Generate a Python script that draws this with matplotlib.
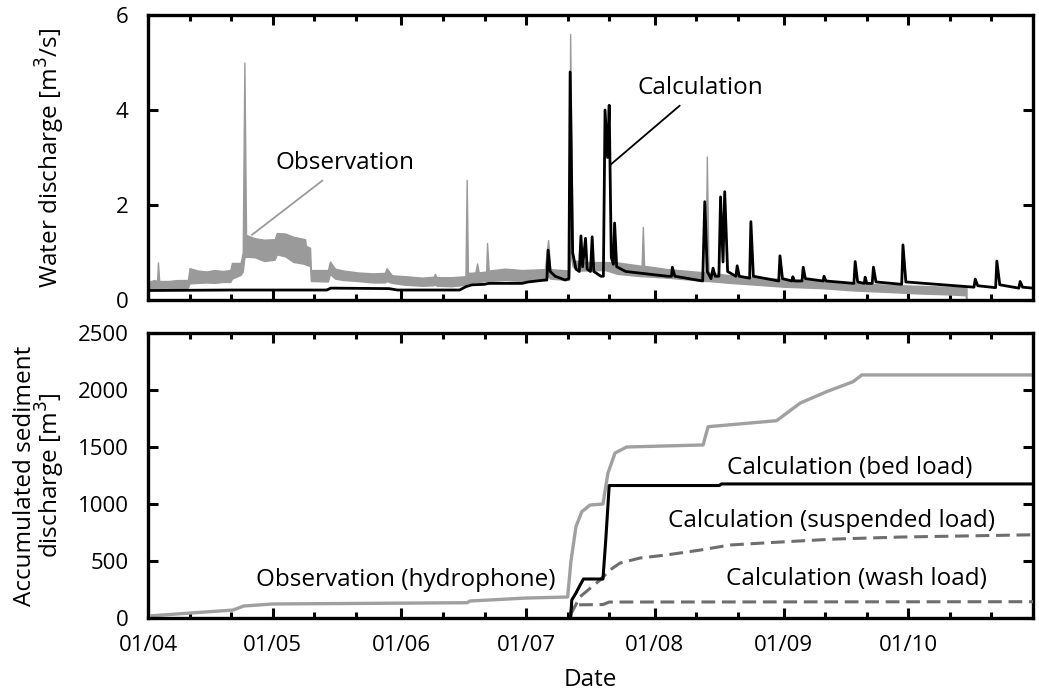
import numpy as np
import pandas as pd
import matplotlib
matplotlib.use("Agg")
import matplotlib.pyplot as plt
import matplotlib.dates as mdates

plt.rcParams['font.family'] = ['Open Sans', 'DejaVu Sans']

START = pd.Timestamp('2014-04-01')
END = pd.Timestamp('2014-10-31')

# ---------------- top panel: water discharge (m3/s), days since 01/04 ----------
# observed discharge: lower / upper edge of the daily fluctuation band
obs_day = [0.0, 1.5, 2.2, 2.4, 2.7, 5.0, 7.0, 9.6, 10.0, 12.0, 14.0, 16.0, 18.0, 19.8,
           20.2, 22.3, 22.8, 23.2, 23.6, 25.7, 28.0, 30.5, 31.0, 33.0, 35.0, 37.8, 38.0,
           39.0, 39.2, 43.3, 43.8, 45.0, 47.0, 50.5, 54.0, 57.0, 57.4, 58.7, 62.0, 66.0,
           68.8, 69.0, 69.5, 73.0, 76.4, 76.7, 77.0, 78.8, 79.2, 79.6, 81.4, 81.6, 82.0,
           86.0, 90.0, 95.5, 96.3, 96.8, 101.3, 101.6, 102.2, 104.0, 110.0, 113.0, 118.8,
           119.1, 119.4, 125.0, 134.2, 134.5, 134.9, 140.0, 145.0, 153.0, 162.0, 170.0,
           178.0, 185.0, 192.0, 196.8, 197.0]
obs_lo = [0.22, 0.25, 0.25, 0.25, 0.25, 0.24, 0.25, 0.26, 0.35, 0.36, 0.37, 0.36, 0.38, 0.38,
          0.45, 0.53, 0.60, 0.90, 0.91, 0.90, 0.82, 0.85, 0.96, 0.92, 0.80, 0.76, 0.74,
          0.72, 0.40, 0.39, 0.55, 0.45, 0.42, 0.40, 0.37, 0.37, 0.40, 0.36, 0.32, 0.30,
          0.31, 0.33, 0.30, 0.29, 0.32, 0.32, 0.36, 0.38, 0.38, 0.38, 0.40, 0.40, 0.40,
          0.42, 0.40, 0.42, 0.50, 0.45, 0.42, 1.00, 0.70, 0.62, 0.63, 0.55, 0.50,
          0.50, 0.50, 0.47, 0.40, 0.40, 0.40, 0.36, 0.33, 0.28, 0.25, 0.20,
          0.17, 0.14, 0.12, 0.10, -0.10]
obs_hi = [0.38, 0.42, 0.40, 0.79, 0.40, 0.40, 0.42, 0.42, 0.67, 0.62, 0.60, 0.63, 0.61, 0.63,
          0.78, 0.78, 1.00, 5.00, 1.37, 1.30, 1.27, 1.28, 1.41, 1.40, 1.33, 1.28, 1.14,
          1.10, 0.63, 0.63, 0.81, 0.66, 0.62, 0.58, 0.56, 0.57, 0.67, 0.52, 0.50, 0.47,
          0.49, 0.55, 0.48, 0.48, 0.50, 2.53, 0.57, 0.58, 0.77, 0.58, 0.60, 1.20, 0.62,
          0.66, 0.63, 0.65, 1.26, 0.65, 0.62, 5.60, 0.85, 0.80, 0.80, 0.79, 0.72,
          1.54, 0.72, 0.65, 0.58, 3.02, 0.58, 0.52, 0.49, 0.44, 0.40, 0.36,
          0.32, 0.30, 0.28, 0.27, 0.25]

calc_day = [0, 20, 43, 44, 58, 60, 75, 76.5, 78, 81, 82, 90, 91.5, 95.5, 96.0, 96.3, 96.8, 98,
            100.4, 101.3, 101.6, 102.2, 103, 103.8, 104.2, 104.6, 105.3, 105.7, 106.5,
            106.9, 107.3, 109, 109.6, 110, 110.6, 111.0, 111.5, 112.0, 112.3, 112.8, 115,
            125, 126, 126.2, 126.8, 133.5, 134.0, 134.6, 135.5, 136.0, 136.5, 137.4,
            137.8, 138.4, 138.8, 139.5, 141.5, 141.8, 142.3, 144.8, 145.1, 145.7, 151.8,
            152.1, 152.7, 155.0, 155.2, 155.6, 157.4, 157.7, 158.2, 162.5, 162.7, 163.2,
            169.9, 170.2, 170.8, 172.4, 172.6, 173.0, 174.3, 174.6, 175.2, 181.4, 181.7,
            182.4, 198.8, 199.1, 199.7, 204.0, 204.3, 205.0, 209.6, 209.9, 210.5, 213]
calc_q = [0.20, 0.21, 0.21, 0.25, 0.24, 0.21, 0.21, 0.28, 0.32, 0.33, 0.35, 0.35, 0.38, 0.42,
          0.42, 1.05, 0.60, 0.50, 0.42, 0.45, 4.80, 1.00, 0.65, 0.60, 1.35, 0.70, 1.30, 0.65,
          0.60, 1.33, 0.60, 0.50, 0.50, 4.00, 3.00, 4.10, 0.90, 0.75, 1.62, 0.70, 0.60,
          0.50, 0.50, 0.69, 0.50, 0.40, 2.07, 0.60, 0.45, 0.67, 0.50, 0.50,
          2.17, 0.80, 2.28, 0.60, 0.50, 0.72, 0.50, 0.46, 1.65, 0.50, 0.40,
          0.93, 0.45, 0.40, 0.49, 0.40, 0.40, 0.69, 0.45, 0.40, 0.50, 0.40,
          0.35, 0.81, 0.38, 0.35, 0.48, 0.35, 0.35, 0.69, 0.38, 0.33, 1.16,
          0.38, 0.27, 0.44, 0.30, 0.26, 0.82, 0.32, 0.25, 0.39, 0.27, 0.25]

# ---------------- bottom panel: accumulated sediment discharge (m3) ------------
hyd_day = [1, 20.5, 23, 30, 76.8, 77.5, 91, 101, 101.8, 103.0, 104.4, 106.4, 109.5, 110.7,
           112.4, 115.2, 133.6, 134.8, 151.3, 157, 163.3, 169.7, 171.8, 213]
hyd_v = [20, 70, 105, 123, 134, 149, 175, 184, 500, 801, 932, 991, 1000, 1272,
         1447, 1500, 1518, 1678, 1731, 1886, 1985, 2073, 2132, 2132]

bed_day = [101.7, 102.0, 103.0, 104.0, 104.8, 109.5, 110.2, 111.0, 137.5, 138.0, 213]
bed_v = [0, 158, 219, 289, 342, 342, 700, 1162, 1162, 1176, 1176]

sus_day = [101.7, 104.0, 108.8, 111.2, 113.6, 118.4, 124.8, 132.9, 140, 149, 165, 181, 213]
sus_v = [30, 187, 333, 421, 482, 526, 553, 596, 640, 660, 692, 710, 730]

wash_day = [101.7, 102.0, 109.5, 111.0, 213]
wash_v = [0, 115, 118, 140, 143]


def to_dates(days):
    return START + pd.to_timedelta(np.asarray(days, dtype=float), unit='D')


TXT = 17.5
fig = plt.figure(figsize=(10.39, 6.92), dpi=100)
ax1 = fig.add_axes([148 / 1039, 1 - 300 / 692, 885 / 1039, 285 / 692])
ax2 = fig.add_axes([148 / 1039, 1 - 618 / 692, 885 / 1039, 285 / 692])

OBS_C = '#9a9a9a'
ax1.fill_between(to_dates(obs_day), obs_lo, obs_hi, color=OBS_C, lw=1.0, edgecolor=OBS_C, zorder=2)
ax1.plot(to_dates(calc_day), calc_q, color='black', lw=2.0, zorder=3)
ax1.set_ylim(0, 6)
ax1.set_yticks([0, 2, 4, 6])
ax1.set_ylabel('Water discharge [m$^3$/s]', fontsize=TXT)

ax1.annotate('Observation', xy=(to_dates([25.0])[0], 1.37),
             xytext=(to_dates([47.4])[0], 2.88), ha='center', va='center', fontsize=TXT,
             arrowprops=dict(arrowstyle='-', color=OBS_C, lw=1.3, shrinkA=3, shrinkB=0))
ax1.annotate('Calculation', xy=(to_dates([111.2])[0], 2.84),
             xytext=(to_dates([132.9])[0], 4.46), ha='center', va='center', fontsize=TXT,
             arrowprops=dict(arrowstyle='-', color='black', lw=1.3, shrinkA=3, shrinkB=0))

ax2.plot(to_dates(hyd_day), hyd_v, color='#a0a0a0', lw=2.4, zorder=2)
ax2.plot(to_dates(sus_day), sus_v, color='#6e6e6e', lw=2.2, dashes=(4.5, 2.2), zorder=3)
ax2.plot(to_dates(wash_day), wash_v, color='#6e6e6e', lw=2.2, dashes=(4.5, 2.2), zorder=3)
ax2.plot(to_dates(bed_day), bed_v, color='black', lw=2.2, zorder=4)
ax2.set_ylim(0, 2500)
ax2.set_yticks([0, 500, 1000, 1500, 2000, 2500])
ax2.set_ylabel('Accumulated sediment\ndischarge [m$^3$]', fontsize=TXT, linespacing=0.9)
ax2.set_xlabel('Date', fontsize=TXT, labelpad=9)

ax2.text(to_dates([62.1])[0], 333, 'Observation (hydrophone)', ha='center', va='center', fontsize=TXT)
ax2.text(to_dates([169.0])[0], 1316, 'Calculation (bed load)', ha='center', va='center', fontsize=TXT)
ax2.text(to_dates([164.6])[0], 851, 'Calculation (suspended load)', ha='center', va='center', fontsize=TXT)
ax2.text(to_dates([170.6])[0], 342, 'Calculation (wash load)', ha='center', va='center', fontsize=TXT)

ax1.yaxis.set_label_coords(-0.091, 0.5)
ax2.yaxis.set_label_coords(-0.091, 0.5)

for ax in (ax1, ax2):
    ax.set_xlim(START, END)
    ax.xaxis.set_major_locator(mdates.MonthLocator())
    ax.xaxis.set_minor_locator(mdates.DayLocator(bymonthday=[11, 21]))
    ax.xaxis.set_major_formatter(mdates.DateFormatter('%d/%m'))
    ax.tick_params(which='both', direction='in', top=True, right=True, width=2.2)
    ax.tick_params(which='major', length=7, labelsize=16)
    ax.tick_params(axis='y', which='major', pad=14)
    ax.tick_params(axis='x', which='major', pad=12)
    ax.tick_params(which='minor', length=4)
    for s in ax.spines.values():
        s.set_linewidth(2.4)

ax1.tick_params(axis='x', labelbottom=False)

fig.savefig('out.png', dpi=100)
